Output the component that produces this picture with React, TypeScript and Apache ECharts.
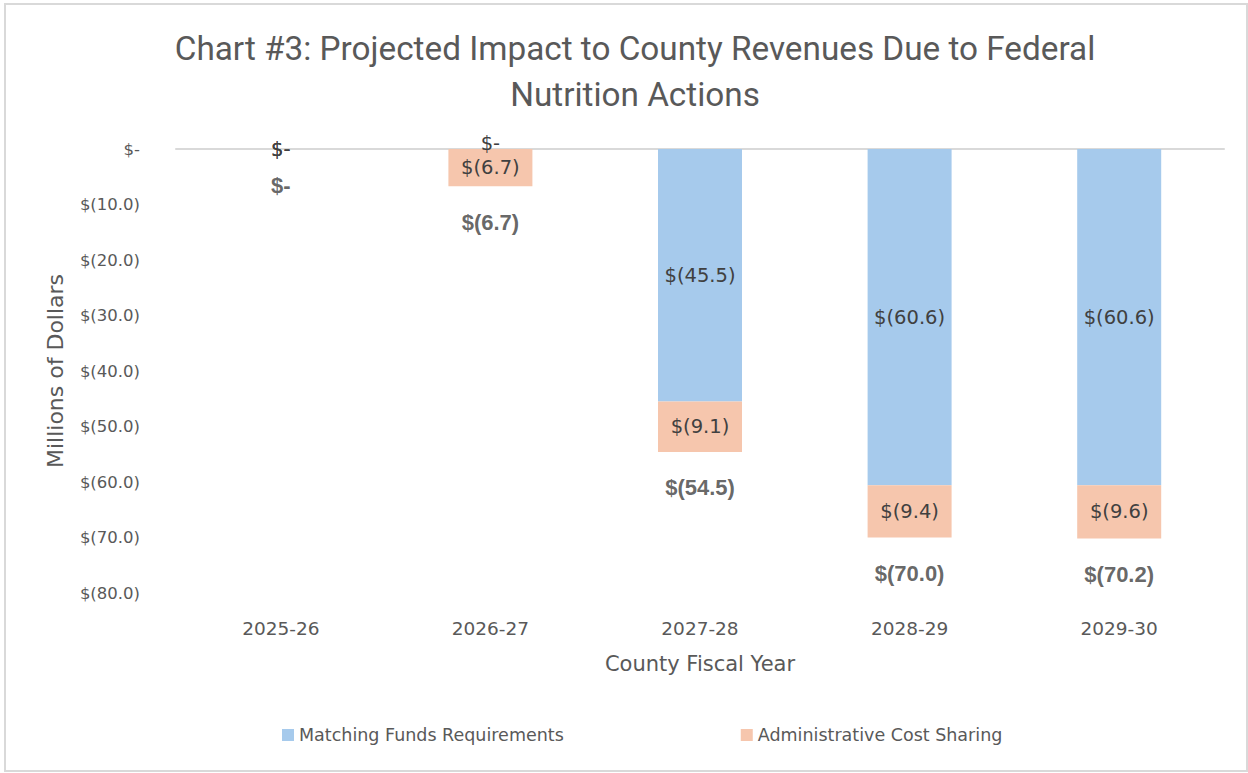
import React, { useEffect, useRef } from "react";
import * as echarts from "echarts";

const categories = ["2025-26", "2026-27", "2027-28", "2028-29", "2029-30"];
const matchingFunds = [0, 0, -45.5, -60.6, -60.6];
const adminCostSharing = [0, -6.7, -9.1, -9.4, -9.6];
const totals = [0, -6.7, -54.5, -70.0, -70.2];
const yTicks = { min: -80, max: 0, interval: 10 };

const TITLE = "Chart #3: Projected Impact to County Revenues Due to Federal\nNutrition Actions";
const TITLE_FONT = "Roboto, 'Noto Sans', sans-serif";
const FONT = "'DejaVu Sans', 'Noto Sans', sans-serif";
const BOLD_FONT = "'Liberation Sans', Arial, sans-serif";
const GRAY = "#595959";
const DARK = "#404040";

const money = (v: number) => (Math.abs(v) < 1e-9 ? "$-" : `$(${Math.abs(v).toFixed(1)})`);

// zero-height matching bars sitting on a non-zero admin bar get their label nudged up
const matchingData = matchingFunds.map((v, i) =>
  v === 0 && adminCostSharing[i] !== 0 ? { value: v, label: { offset: [0, -6] } } : v
);

export default function App() {
  const ref = useRef<HTMLDivElement>(null);
  useEffect(() => {
    if (!ref.current) return;
    const chart = echarts.init(ref.current, undefined, { renderer: "svg" });
    chart.setOption({
      animation: false,
      backgroundColor: "#ffffff",
      textStyle: { fontFamily: FONT },
      graphic: [
        {
          type: "rect",
          shape: { x: 5, y: 4, width: 1242, height: 767 },
          style: { fill: "none", stroke: "#D9D9D9", lineWidth: 2 },
          silent: true,
        },
      ],
      title: {
        text: TITLE,
        left: 630,
        textAlign: "center",
        top: 20,
        textStyle: { fontFamily: TITLE_FONT, fontSize: 33.3, fontWeight: "normal", color: GRAY, lineHeight: 46 },
      },
      legend: {
        data: ["Matching Funds Requirements", "Administrative Cost Sharing"],
        left: 277,
        top: 721,
        icon: "rect",
        itemWidth: 12,
        itemHeight: 12,
        itemGap: 177,
        textStyle: { fontFamily: FONT, fontSize: 17.5, color: GRAY },
      },
      grid: { left: 176, right: 24, top: 149, bottom: 180, containLabel: false },
      xAxis: [
        {
          type: "category",
          data: categories,
          position: "bottom",
          axisLine: { show: false, onZero: false },
          axisTick: { show: false },
          axisLabel: { margin: 26, fontSize: 18.5, color: GRAY, fontFamily: FONT },
          name: "County Fiscal Year",
          nameLocation: "middle",
          nameGap: 60,
          nameTextStyle: { fontSize: 21, color: GRAY, fontFamily: FONT },
        },
        {
          type: "category",
          data: categories,
          position: "top",
          axisLine: { show: true, onZero: false, lineStyle: { color: "#D9D9D9", width: 2 } },
          axisTick: { show: false },
          axisLabel: { show: false },
        },
      ],
      yAxis: {
        type: "value",
        min: yTicks.min,
        max: yTicks.max,
        interval: yTicks.interval,
        axisLine: { show: false },
        axisTick: { show: false },
        splitLine: { show: false },
        axisLabel: { formatter: money, margin: 36, fontSize: 16.5, color: GRAY, fontFamily: FONT },
        name: "Millions of Dollars",
        nameLocation: "middle",
        nameGap: 110,
        nameTextStyle: { fontSize: 22, color: GRAY, fontFamily: FONT },
      },
      series: [
        {
          name: "Matching Funds Requirements",
          type: "bar",
          stack: "total",
          data: matchingData,
          barWidth: 84,
          itemStyle: { color: "#A6CAEC" },
          label: { show: true, position: "inside", formatter: (p: any) => money(p.value), fontSize: 19.5, color: DARK, fontFamily: FONT },
        },
        {
          name: "Administrative Cost Sharing",
          type: "bar",
          stack: "total",
          data: adminCostSharing,
          barWidth: 84,
          itemStyle: { color: "#F6C6AD" },
          label: { show: true, position: "inside", formatter: (p: any) => money(p.value), fontSize: 19.5, color: DARK, fontFamily: FONT },
        },
        {
          name: "Total",
          type: "scatter",
          data: totals,
          symbolSize: 1,
          itemStyle: { color: "transparent" },
          label: {
            show: true,
            position: "inside",
            offset: [0, 36],
            formatter: (p: any) => money(p.value),
            fontSize: 22,
            fontWeight: "bold",
            color: DARK,
            fontFamily: BOLD_FONT,
          },
          silent: true,
        },
      ],
    });
    return () => chart.dispose();
  }, []);
  return <div ref={ref} style={{ position: "fixed", left: 0, top: 0, width: 1248, height: 773 }} />;
}
